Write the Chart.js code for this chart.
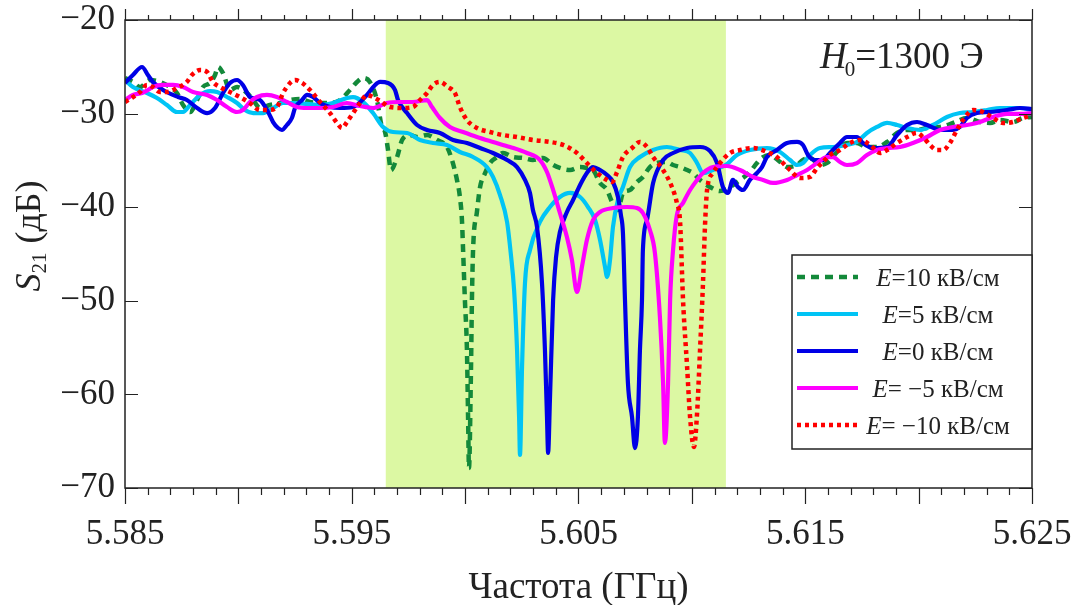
<!DOCTYPE html>
<html><head><meta charset="utf-8">
<script src="https://cdn.jsdelivr.net/npm/chart.js@4.4.1/dist/chart.umd.min.js"></script>
<style>html,body{margin:0;padding:0;background:#fff;}canvas{display:block;}</style>
</head><body>
<canvas id="c" width="1082" height="605"></canvas>
<script>
// ---------- data ----------
const xTickValues = [5.585, 5.595, 5.605, 5.615, 5.625];
const xTickLabels = ['5.585', '5.595', '5.605', '5.615', '5.625'];
const yTickValues = [-70, -60, -50, -40, -30, -20];
const bandRange = [5.5965, 5.6115];
const legendTexts = ['=10 кВ/см', '=5 кВ/см', '=0 кВ/см', '= \u22125 кВ/см', '= \u221210 кВ/см'];
const fieldLabel = 'H';
const fieldValue = '=1300 Э';

const freqE10 = [5.58500,5.58535,5.58566,5.58610,5.58654,5.58698,5.58729,5.58756,5.58787,5.58818,5.58844,5.58875,5.58897,5.58910,5.58932,5.58963,5.58994,5.59038,5.59065,5.59095,5.59139,5.59184,5.59228,5.59272,5.59316,5.59360,5.59404,5.59448,5.59492,5.59523,5.59550,5.59580,5.59611,5.59633,5.59647,5.59660,5.59673,5.59700,5.59722,5.59757,5.59788,5.59832,5.59876,5.59920,5.59942,5.59964,5.59977,5.59986,5.59991,5.59999,5.60008,5.60013,5.60017,5.60026,5.60030,5.60035,5.60052,5.60066,5.60088,5.60110,5.60141,5.60167,5.60211,5.60255,5.60299,5.60343,5.60388,5.60418,5.60463,5.60507,5.60537,5.60564,5.60595,5.60626,5.60648,5.60674,5.60696,5.60727,5.60758,5.60784,5.60815,5.60846,5.60890,5.60917,5.60948,5.60979,5.61005,5.61036,5.61080,5.61124,5.61168,5.61212,5.61256,5.61287,5.61314,5.61345,5.61389,5.61420,5.61464,5.61490,5.61521,5.61565,5.61596,5.61640,5.61684,5.61728,5.61772,5.61816,5.61861,5.61905,5.61949,5.61993,5.62037,5.62094,5.62152,5.62213,5.62271,5.62315,5.62359,5.62416,5.62460,5.62500];
const s21E10 = [-26.20,-26.62,-27.16,-26.41,-26.62,-27.16,-27.80,-29.08,-29.83,-28.55,-27.16,-26.73,-25.88,-25.02,-25.66,-27.48,-27.16,-27.80,-28.55,-29.40,-29.08,-28.87,-28.55,-28.44,-28.76,-28.87,-28.87,-28.55,-27.48,-26.62,-26.20,-26.62,-28.55,-31.43,-31.97,-33.89,-36.03,-34.64,-32.82,-32.29,-32.50,-32.29,-32.82,-33.57,-34.96,-37.09,-38.91,-41.37,-44.57,-49.91,-55.26,-62.41,-67.86,-57.07,-49.91,-44.57,-40.51,-37.84,-36.35,-35.28,-34.64,-34.21,-34.64,-34.74,-34.96,-34.74,-35.49,-35.81,-36.03,-35.71,-35.81,-36.03,-37.41,-38.16,-39.45,-40.30,-38.48,-38.16,-37.31,-36.77,-35.71,-35.28,-35.17,-35.49,-35.71,-36.03,-36.35,-37.09,-37.84,-38.27,-37.84,-37.09,-36.24,-35.28,-34.64,-34.42,-35.17,-35.71,-35.49,-34.96,-34.74,-35.49,-35.28,-34.10,-33.14,-33.14,-33.57,-33.57,-33.03,-32.07,-31.75,-31.75,-31.54,-31.43,-31.00,-30.47,-30.90,-31.00,-30.68,-30.90,-30.47,-30.36];

const freqE5 = [5.58500,5.58535,5.58597,5.58641,5.58685,5.58729,5.58756,5.58787,5.58831,5.58875,5.58906,5.58950,5.58994,5.59029,5.59065,5.59109,5.59153,5.59197,5.59241,5.59303,5.59360,5.59417,5.59479,5.59506,5.59550,5.59594,5.59638,5.59682,5.59744,5.59801,5.59858,5.59920,5.59977,5.60035,5.60096,5.60123,5.60154,5.60185,5.60202,5.60216,5.60229,5.60238,5.60242,5.60251,5.60264,5.60286,5.60330,5.60374,5.60418,5.60463,5.60507,5.60542,5.60573,5.60595,5.60617,5.60626,5.60639,5.60652,5.60674,5.60696,5.60727,5.60771,5.60829,5.60890,5.60948,5.60992,5.61023,5.61049,5.61093,5.61155,5.61199,5.61256,5.61331,5.61389,5.61433,5.61464,5.61490,5.61521,5.61565,5.61622,5.61684,5.61728,5.61772,5.61816,5.61861,5.61905,5.61949,5.62006,5.62063,5.62125,5.62182,5.62240,5.62302,5.62359,5.62447,5.62500];
const s21E5 = [-26.41,-27.16,-27.80,-28.33,-29.08,-29.83,-29.83,-29.08,-28.01,-27.59,-27.69,-28.23,-28.87,-29.62,-29.94,-29.94,-29.40,-28.87,-28.87,-28.97,-29.08,-28.87,-28.33,-28.23,-28.76,-29.94,-31.43,-31.97,-32.07,-32.82,-33.14,-33.35,-34.10,-34.64,-35.71,-36.77,-38.70,-41.58,-45.11,-48.85,-55.26,-62.41,-66.47,-57.07,-48.10,-44.57,-41.58,-39.98,-38.91,-38.48,-38.91,-39.98,-41.37,-43.50,-46.39,-47.46,-45.64,-42.12,-39.23,-37.84,-35.71,-34.64,-33.89,-33.57,-33.89,-34.21,-35.28,-36.35,-36.03,-35.38,-34.42,-33.89,-33.68,-34.10,-34.96,-35.49,-35.28,-34.42,-33.68,-33.57,-33.35,-33.03,-32.07,-31.43,-31.00,-31.22,-31.54,-31.75,-31.22,-30.36,-29.94,-29.83,-29.62,-29.40,-29.40,-29.62];

const freqE0 = [5.58500,5.58535,5.58575,5.58601,5.58623,5.58668,5.58734,5.58773,5.58818,5.58862,5.58897,5.58932,5.58963,5.58994,5.59020,5.59051,5.59095,5.59131,5.59153,5.59175,5.59192,5.59214,5.59236,5.59250,5.59281,5.59303,5.59329,5.59360,5.59404,5.59448,5.59506,5.59567,5.59603,5.59625,5.59660,5.59691,5.59704,5.59744,5.59788,5.59832,5.59889,5.59947,5.60008,5.60066,5.60123,5.60185,5.60229,5.60264,5.60286,5.60299,5.60317,5.60339,5.60352,5.60361,5.60366,5.60374,5.60388,5.60401,5.60418,5.60449,5.60476,5.60507,5.60537,5.60564,5.60595,5.60626,5.60652,5.60674,5.60687,5.60696,5.60705,5.60718,5.60736,5.60749,5.60762,5.60771,5.60780,5.60784,5.60802,5.60829,5.60873,5.60917,5.60979,5.61036,5.61080,5.61111,5.61137,5.61159,5.61181,5.61203,5.61225,5.61256,5.61287,5.61309,5.61331,5.61375,5.61420,5.61464,5.61490,5.61512,5.61543,5.61578,5.61609,5.61653,5.61684,5.61728,5.61754,5.61799,5.61861,5.61905,5.61949,5.61993,5.62037,5.62094,5.62152,5.62182,5.62213,5.62257,5.62315,5.62390,5.62447,5.62500];
const s21E0 = [-26.73,-25.88,-25.02,-25.88,-26.62,-27.48,-28.23,-28.55,-29.40,-29.94,-29.40,-27.80,-26.73,-26.41,-26.94,-28.23,-28.55,-29.83,-30.90,-31.54,-31.75,-31.22,-30.47,-29.40,-28.55,-28.01,-28.23,-28.87,-29.30,-29.40,-29.30,-28.01,-26.94,-26.62,-26.73,-27.48,-28.55,-29.94,-31.22,-31.75,-32.07,-32.82,-33.14,-33.68,-34.21,-34.96,-35.71,-37.09,-38.48,-40.30,-42.12,-48.10,-55.26,-62.41,-66.26,-60.60,-49.91,-45.32,-42.65,-40.51,-39.23,-37.63,-36.35,-35.71,-36.03,-36.56,-37.31,-38.91,-40.83,-42.76,-49.91,-58.78,-62.41,-65.73,-62.41,-55.26,-49.91,-44.57,-41.37,-37.41,-34.96,-34.21,-33.68,-33.57,-34.00,-35.28,-37.84,-38.48,-37.09,-37.84,-38.16,-37.09,-36.35,-35.71,-34.64,-33.89,-33.14,-33.03,-33.35,-34.42,-34.96,-34.96,-34.21,-33.14,-32.50,-32.50,-33.14,-33.68,-33.57,-32.29,-31.22,-30.90,-31.22,-31.75,-31.75,-31.43,-30.47,-29.94,-29.83,-29.62,-29.40,-29.51];

const freqEm5 = [5.58500,5.58535,5.58575,5.58601,5.58623,5.58668,5.58712,5.58756,5.58800,5.58862,5.58906,5.58950,5.58994,5.59020,5.59051,5.59082,5.59126,5.59170,5.59214,5.59259,5.59303,5.59360,5.59417,5.59479,5.59536,5.59594,5.59655,5.59713,5.59770,5.59832,5.59854,5.59889,5.59933,5.59991,5.60052,5.60123,5.60198,5.60273,5.60330,5.60361,5.60388,5.60418,5.60449,5.60471,5.60493,5.60515,5.60537,5.60564,5.60595,5.60652,5.60714,5.60758,5.60784,5.60815,5.60837,5.60859,5.60873,5.60881,5.60895,5.60904,5.60917,5.60934,5.60961,5.60992,5.61023,5.61049,5.61093,5.61155,5.61212,5.61270,5.61314,5.61358,5.61420,5.61464,5.61508,5.61552,5.61596,5.61622,5.61653,5.61684,5.61728,5.61772,5.61816,5.61861,5.61918,5.61975,5.62037,5.62094,5.62152,5.62213,5.62271,5.62328,5.62390,5.62447,5.62500];
const s21Em5 = [-28.55,-28.01,-27.80,-27.48,-27.16,-26.94,-26.94,-27.16,-27.69,-28.01,-28.55,-29.30,-29.83,-29.62,-28.76,-28.23,-28.01,-28.23,-28.76,-29.30,-29.40,-29.40,-29.30,-28.87,-29.19,-29.40,-28.87,-28.76,-28.76,-28.55,-29.30,-30.47,-31.43,-31.97,-32.50,-33.03,-33.57,-34.21,-34.96,-36.24,-38.16,-40.62,-43.18,-45.64,-49.06,-46.39,-43.50,-41.37,-40.51,-40.09,-39.98,-40.09,-40.62,-42.44,-44.89,-51.73,-58.78,-65.19,-58.78,-49.91,-44.57,-40.83,-39.55,-38.16,-37.09,-36.35,-35.71,-35.60,-36.03,-36.77,-37.09,-37.41,-37.09,-36.56,-36.03,-35.28,-34.64,-34.64,-35.17,-35.49,-35.28,-34.42,-33.89,-33.68,-33.57,-33.14,-32.50,-31.75,-31.43,-31.22,-30.90,-30.36,-30.04,-30.04,-29.94];

const freqEm10 = [5.58500,5.58535,5.58566,5.58597,5.58623,5.58654,5.58685,5.58729,5.58773,5.58795,5.58831,5.58862,5.58888,5.58919,5.58963,5.59007,5.59051,5.59095,5.59126,5.59170,5.59197,5.59228,5.59250,5.59281,5.59316,5.59360,5.59404,5.59435,5.59457,5.59479,5.59506,5.59536,5.59567,5.59594,5.59625,5.59669,5.59726,5.59770,5.59801,5.59832,5.59858,5.59889,5.59924,5.59955,5.59977,5.60008,5.60052,5.60110,5.60167,5.60229,5.60299,5.60374,5.60432,5.60493,5.60537,5.60582,5.60626,5.60648,5.60670,5.60696,5.60736,5.60771,5.60802,5.60829,5.60873,5.60912,5.60934,5.60948,5.60961,5.60979,5.60992,5.61009,5.61023,5.61036,5.61049,5.61058,5.61067,5.61093,5.61124,5.61168,5.61212,5.61270,5.61331,5.61375,5.61397,5.61433,5.61477,5.61521,5.61552,5.61578,5.61609,5.61653,5.61697,5.61741,5.61786,5.61830,5.61861,5.61905,5.61949,5.61993,5.62019,5.62050,5.62081,5.62108,5.62138,5.62169,5.62196,5.62240,5.62284,5.62328,5.62372,5.62416,5.62460,5.62500];
const s21Em10 = [-28.76,-28.23,-27.69,-26.94,-27.16,-27.69,-27.69,-27.26,-26.62,-25.88,-25.34,-25.56,-26.62,-27.16,-27.69,-28.23,-28.87,-29.62,-29.62,-29.30,-27.80,-26.73,-26.41,-26.73,-27.48,-28.76,-29.94,-31.00,-31.54,-30.90,-29.94,-28.87,-28.01,-28.23,-28.65,-29.30,-29.40,-29.30,-28.55,-27.80,-26.94,-26.62,-27.16,-27.80,-29.30,-30.68,-31.54,-31.97,-32.29,-32.50,-32.82,-33.03,-33.35,-34.21,-35.28,-36.35,-37.09,-37.31,-36.24,-34.64,-33.68,-33.03,-33.57,-34.64,-36.03,-37.84,-39.55,-41.58,-49.91,-57.07,-62.41,-65.62,-61.99,-55.26,-48.10,-41.90,-38.16,-36.35,-35.28,-34.21,-33.89,-33.68,-34.10,-34.64,-35.17,-36.03,-36.88,-36.77,-35.81,-35.17,-34.42,-33.89,-33.14,-32.82,-33.35,-34.21,-33.89,-33.14,-32.50,-32.07,-32.50,-33.35,-33.89,-33.89,-33.14,-31.75,-30.68,-29.62,-29.83,-30.47,-31.00,-30.90,-30.47,-30.15];

// ---------- styles ----------
const FONT = '"Liberation Serif", "Times New Roman", serif';
const INK = '#222222';
const seriesStyles = [
  {color: '#13893a', dash: [8, 6], width: 4.5},
  {color: '#00c4f5', dash: [], width: 4.2},
  {color: '#0000e6', dash: [], width: 4.2},
  {color: '#ff00ff', dash: [], width: 4.2},
  {color: '#ff0000', dash: [4, 4], width: 4.5}
];
const seriesData = [[freqE10, s21E10], [freqE5, s21E5], [freqE0, s21E0], [freqEm5, s21Em5], [freqEm10, s21Em10]];

Chart.defaults.font.family = FONT;
Chart.defaults.color = INK;

const datasets = seriesData.map(([fx, fy], i) => ({
  label: 'E' + legendTexts[i],
  data: fx.map((f, k) => ({x: f, y: fy[k]})),
  borderColor: seriesStyles[i].color,
  borderWidth: seriesStyles[i].width,
  borderDash: seriesStyles[i].dash,
  borderCapStyle: 'butt',
  borderJoinStyle: 'round',
  pointRadius: 0,
  fill: false,
  cubicInterpolationMode: 'monotone',
  order: 5 - i
}));

const bgPlugin = {
  id: 'bg',
  beforeDraw(chart) {
    const ctx = chart.ctx;
    ctx.save(); ctx.fillStyle = '#fff'; ctx.fillRect(0, 0, chart.width, chart.height); ctx.restore();
  },
  beforeDatasetsDraw(chart) {
    const {ctx, chartArea: a, scales: {x}} = chart;
    const x0 = x.getPixelForValue(bandRange[0]), x1 = x.getPixelForValue(bandRange[1]);
    ctx.save(); ctx.fillStyle = '#dcf8a3'; ctx.fillRect(x0, a.top, x1 - x0, a.bottom - a.top); ctx.restore();
  }
};

const framePlugin = {
  id: 'frame',
  afterDatasetsDraw(chart) {
    const {ctx, chartArea: a, scales: {x, y}} = chart;
    ctx.save();
    ctx.strokeStyle = INK; ctx.lineWidth = 1.5; ctx.setLineDash([]);
    ctx.strokeRect(a.left, a.top, a.right - a.left, a.bottom - a.top);
    ctx.lineWidth = 1.2;
    ctx.beginPath();
    for (let k = 0; k <= 40; k++) {
      const v = 5.585 + k * 0.001;
      const px = Math.round(x.getPixelForValue(v)) + 0.5;
      const major = k % 5 === 0;
      ctx.moveTo(px, a.bottom); ctx.lineTo(px, a.bottom + (major ? 16 : 7));
      ctx.moveTo(px, a.top); ctx.lineTo(px, a.top - (major ? 11 : 5));
    }
    yTickValues.forEach(v => {
      const py = Math.round(y.getPixelForValue(v)) + 0.5;
      ctx.moveTo(a.left, py); ctx.lineTo(a.left + 13, py);
      ctx.moveTo(a.right, py); ctx.lineTo(a.right - 13, py);
    });
    ctx.stroke();
    ctx.restore();
  }
};

const annotPlugin = {
  id: 'annot',
  afterDraw(chart) {
    const {ctx, chartArea: a} = chart;
    ctx.save();
    ctx.fillStyle = INK;
    // y axis title: S21 (дБ)
    ctx.save();
    ctx.translate(0, 236);
    ctx.rotate(-Math.PI / 2);
    ctx.textBaseline = 'alphabetic';
    const fMain = '36px ' + FONT, fIt = 'italic 36px ' + FONT, fSub = '21px ' + FONT;
    ctx.font = fIt; const wS = ctx.measureText('S').width;
    ctx.font = fSub; const w21 = ctx.measureText('21').width;
    ctx.font = fMain; const wR = ctx.measureText(' (дБ)').width;
    let sx = -(wS + w21 + wR) / 2;
    ctx.font = fIt; ctx.fillText('S', sx, 40); sx += wS;
    ctx.font = fSub; ctx.fillText('21', sx, 46); sx += w21;
    ctx.font = fMain; ctx.fillText(' (дБ)', sx, 40);
    ctx.restore();

    // H0 = 1300 Э
    let hx = a.right - 212; const hy = a.top + 48;
    ctx.textBaseline = 'alphabetic';
    ctx.font = 'italic 37px ' + FONT; ctx.fillText(fieldLabel, hx, hy); hx += ctx.measureText(fieldLabel).width - 2;
    ctx.font = '21px ' + FONT; ctx.fillText('0', hx, hy + 8); hx += ctx.measureText('0').width;
    ctx.font = '37px ' + FONT; ctx.fillText(fieldValue, hx, hy);

    // legend
    const L = {x0: a.right - 240, y0: 255, x1: a.right, y1: 449};
    ctx.fillStyle = '#fff';
    ctx.fillRect(L.x0, L.y0, L.x1 - L.x0, L.y1 - L.y0);
    ctx.strokeStyle = INK; ctx.lineWidth = 1.5;
    ctx.strokeRect(L.x0, L.y0, L.x1 - L.x0, L.y1 - L.y0);
    legendTexts.forEach((t, i) => {
      const ry = 277 + i * 37;
      const st = seriesStyles[i];
      ctx.save();
      ctx.strokeStyle = st.color; ctx.lineWidth = st.width; ctx.setLineDash(st.dash); ctx.lineCap = 'butt';
      ctx.beginPath(); ctx.moveTo(L.x0 + 5, ry); ctx.lineTo(L.x0 + 66, ry); ctx.stroke();
      ctx.restore();
      ctx.fillStyle = INK;
      ctx.textBaseline = 'middle';
      ctx.font = 'italic 25px ' + FONT; const wE = ctx.measureText('E').width;
      ctx.font = '25px ' + FONT; const wT = ctx.measureText(t).width;
      let tx = L.x0 + 146 - (wE + wT) / 2;
      ctx.font = 'italic 25px ' + FONT; ctx.fillText('E', tx, ry + 2);
      ctx.font = '25px ' + FONT; ctx.fillText(t, tx + wE, ry + 2);
    });
    ctx.restore();
  }
};

new Chart(document.getElementById('c'), {
  type: 'line',
  data: {datasets},
  options: {
    responsive: false,
    devicePixelRatio: 1,
    animation: false,
    layout: {padding: {top: 20, right: 50, left: 0, bottom: 0}},
    plugins: {legend: {display: false}, tooltip: {enabled: false}},
    scales: {
      x: {
        type: 'linear', min: 5.585, max: 5.625,
        afterBuildTicks: s => { s.ticks = xTickValues.map(v => ({value: v})); },
        afterFit: s => { s.height = 117; s.paddingLeft = 0; s.paddingRight = 0; },
        ticks: {callback: (v, i) => xTickLabels[i], font: {size: 35, lineHeight: 1}, color: INK, padding: 29, maxRotation: 0, autoSkip: false},
        grid: {display: false, drawTicks: false},
        border: {display: false},
        title: {display: true, text: 'Частота (ГГц)', font: {size: 37, lineHeight: 1}, color: INK, padding: {top: 0, bottom: -2}}
      },
      y: {
        type: 'linear', min: -70, max: -20,
        afterBuildTicks: s => { s.ticks = yTickValues.map(v => ({value: v})); },
        afterFit: s => { s.width = 125; s.paddingTop = 0; s.paddingBottom = 0; },
        ticks: {callback: v => (v < 0 ? '\u2212' + Math.abs(v) : String(v)), font: {size: 35, lineHeight: 1}, color: INK, padding: 10},
        grid: {display: false, drawTicks: false},
        border: {display: false}
      }
    }
  },
  plugins: [bgPlugin, framePlugin, annotPlugin]
});
</script>
</body></html>
